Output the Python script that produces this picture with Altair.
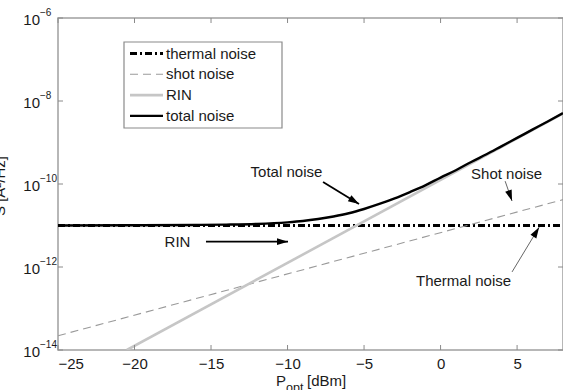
import math
import altair as alt
import pandas as pd

# ---- noise levels versus received optical power ----
thermal_p = [-25, 8]
thermal_v = [1.0e-11, 1.0e-11]

shot_p = [-25, 8]
shot_v = [2.2e-14, 4.2e-11]

rin_p = [-20.5, 8]
rin_v = [1.0e-14, 5.0e-9]

total_p = [-25, -20, -16, -14, -12, -10, -9, -8, -7, -6, -5, -4, -3, -2, -1,
           0, 1, 2, 3, 4, 5, 6, 7, 8]
total_v = [1.00e-11, 1.01e-11, 1.03e-11, 1.05e-11, 1.09e-11, 1.19e-11, 1.28e-11,
           1.43e-11, 1.65e-11, 1.97e-11, 2.5e-11, 3.3e-11, 4.5e-11, 6.4e-11, 9.3e-11,
           1.43e-10, 2.15e-10, 3.4e-10, 5.2e-10, 8.2e-10, 1.29e-9, 2.04e-9, 3.2e-9, 5.1e-9]

series_names = ["thermal noise", "shot noise", "RIN", "total noise"]

# ---- axis ticks ----
x_ticks = [-25, -20, -15, -10, -5, 0, 5]
y_exponents = [-6, -8, -10, -12, -14]

# ---- annotations: label text and arrow (start -> tip) in data units ----
note_text = ["Total noise", "RIN", "Shot noise", "Thermal noise"]
note_p = [-10.07, -17.19, 4.31, 1.50]
note_v = [2.0e-10, 4.07e-12, 1.74e-10, 4.6e-13]
arrow_p0 = [-7.68, -15.33, 4.22, 4.67]
arrow_v0 = [1.12e-10, 4.07e-12, 1.17e-10, 7.6e-13]
arrow_p1 = [-5.33, -9.97, 4.67, 6.44]
arrow_v1 = [3.3e-11, 4.07e-12, 3.9e-11, 9.1e-12]
arrow_color = ["black", "black", "#555555", "#555555"]
arrow_width = [1.8, 1.8, 0.9, 0.9]

# ---- geometry / styles ----
W, H = 505, 332
X_DOM = [-25, 8]
Y_DOM = [1e-14, 1e-6]
FONT = "Liberation Sans"
TXT = "#1a1a1a"
FRAME = "#a0a0a0"

styles = {
    "thermal noise": dict(color="black", strokeWidth=2.8, strokeDash=[7, 3, 2, 3]),
    "shot noise": dict(color="#9a9a9a", strokeWidth=1.1, strokeDash=[8, 5]),
    "RIN": dict(color="#c6c6c6", strokeWidth=2.6),
    "total noise": dict(color="black", strokeWidth=2.4),
}

xs = alt.Scale(domain=X_DOM, nice=False, zero=False)
ys = alt.Scale(type="log", domain=Y_DOM, nice=False)
x_axis = alt.Axis(values=x_ticks, format="d", ticks=False, domain=False, grid=False,
                  labelFont=FONT, labelFontSize=15, labelColor=TXT, labelPadding=6,
                  title=None)


def X(field="P"):
    return alt.X(f"{field}:Q", scale=xs, axis=x_axis)


def Y(field="value"):
    return alt.Y(f"{field}:Q", scale=ys, axis=None)


def screen_angle(p0, v0, p1, v1):
    """Direction of an arrow on screen (degrees clockwise from +x)."""
    dx = (p1 - p0) / (X_DOM[1] - X_DOM[0]) * W
    dy = -(math.log10(v1) - math.log10(v0)) / (math.log10(Y_DOM[1]) - math.log10(Y_DOM[0])) * H
    return math.degrees(math.atan2(dy, dx)) % 360


layers = []

# curves
curve_data = {
    "thermal noise": (thermal_p, thermal_v),
    "shot noise": (shot_p, shot_v),
    "RIN": (rin_p, rin_v),
    "total noise": (total_p, total_v),
}
for name in series_names:
    p, v = curve_data[name]
    df = pd.DataFrame({"P": p, "value": v})
    layers.append(
        alt.Chart(df).mark_line(clip=True, interpolate="monotone", **styles[name])
        .encode(x=X(), y=Y())
    )

# inward tick marks on all four sides
xt = pd.DataFrame({"P": x_ticks})
yt = pd.DataFrame({"value": [10.0 ** e for e in y_exponents]})
tick_col = "#8a8a8a"
layers += [
    alt.Chart(xt).mark_rule(color=tick_col).encode(x=X(), y=alt.value(H), y2=alt.value(H - 5)),
    alt.Chart(xt).mark_rule(color=tick_col).encode(x=X(), y=alt.value(0), y2=alt.value(5)),
    alt.Chart(yt).mark_rule(color=tick_col).encode(y=Y(), x=alt.value(0), x2=alt.value(5)),
    alt.Chart(yt).mark_rule(color=tick_col).encode(y=Y(), x=alt.value(W), x2=alt.value(W - 5)),
]

# y tick labels as 10 with a superscript exponent
ylab = pd.DataFrame({
    "value": [10.0 ** e for e in y_exponents],
    "exp": ["\u2212" + str(abs(e)) for e in y_exponents],
})
layers += [
    alt.Chart(ylab).mark_text(text="10", align="right", baseline="alphabetic", dy=7,
                              font=FONT, fontSize=15, color=TXT)
    .encode(y=Y(), x=alt.value(-18)),
    alt.Chart(ylab).mark_text(align="left", baseline="alphabetic", dy=-2,
                              font=FONT, fontSize=10, color=TXT)
    .encode(y=Y(), x=alt.value(-18), text="exp:N"),
]

# x axis title  P_opt [dBm]
layers += [
    alt.Chart(xt.head(1)).mark_text(text="P", align="left", baseline="alphabetic",
                                    font=FONT, fontSize=15, color=TXT)
    .encode(x=alt.value(218), y=alt.value(368)),
    alt.Chart(xt.head(1)).mark_text(text="opt", align="left", baseline="alphabetic",
                                    font=FONT, fontSize=12.5, color=TXT)
    .encode(x=alt.value(228), y=alt.value(374)),
    alt.Chart(xt.head(1)).mark_text(text="[dBm]", align="left", baseline="alphabetic",
                                    font=FONT, fontSize=15, color=TXT)
    .encode(x=alt.value(249), y=alt.value(368)),
]

# y axis title (runs off the left edge)
layers.append(
    alt.Chart(xt.head(1)).mark_text(text="S [A\u00b2/Hz]", angle=270, align="center",
                                    baseline="alphabetic", font=FONT, fontSize=15, color=TXT)
    .encode(x=alt.value(-53), y=alt.value(168))
)

# annotations
notes = pd.DataFrame({"P": note_p, "value": note_v, "label": note_text})
layers.append(
    alt.Chart(notes).mark_text(align="center", baseline="middle", font=FONT, fontSize=15,
                               color=TXT)
    .encode(x=X(), y=Y(), text="label:N")
)

arrows = pd.DataFrame({
    "P": arrow_p0, "value": arrow_v0, "P1": arrow_p1, "value1": arrow_v1,
    "col": arrow_color, "w": arrow_width,
})
arrows["angle"] = [screen_angle(a, b, c, d) for a, b, c, d in
                   zip(arrow_p0, arrow_v0, arrow_p1, arrow_v1)]
layers.append(
    alt.Chart(arrows).mark_rule()
    .encode(x=X(), y=Y(), x2="P1:Q", y2="value1:Q",
            color=alt.Color("col:N", scale=None),
            strokeWidth=alt.StrokeWidth("w:Q", scale=None))
)
layers.append(
    alt.Chart(arrows).mark_point(shape="M0,0L-2,-0.62L-2,0.62Z", filled=True, size=121,
                                 color="black", opacity=1, strokeWidth=0)
    .encode(x=alt.X("P1:Q", scale=xs, axis=x_axis), y=alt.Y("value1:Q", scale=ys, axis=None),
            angle=alt.Angle("angle:Q", scale=None))
)

# legend box
LX0, LX1, LY0, LY1 = 66, 224, 24, 110
layers.append(
    alt.Chart(xt.head(1)).mark_rect(fill="white", stroke="#8a8a8a", strokeWidth=1.2)
    .encode(x=alt.value(LX0), x2=alt.value(LX1), y=alt.value(LY0), y2=alt.value(LY1))
)
for i, name in enumerate(series_names):
    ry = 35.5 + 20.8 * i
    st = styles[name]
    layers.append(
        alt.Chart(xt.head(1)).mark_rule(**st)
        .encode(x=alt.value(72), x2=alt.value(105), y=alt.value(ry))
    )
    layers.append(
        alt.Chart(xt.head(1)).mark_text(text=name, align="left", baseline="middle",
                                        font=FONT, fontSize=15, color=TXT)
        .encode(x=alt.value(108), y=alt.value(ry))
    )

chart = (
    alt.layer(*layers)
    .properties(width=W, height=H, autosize=alt.AutoSizeParams(type="none"),
                padding={"left": 58, "top": 18, "right": 0, "bottom": 40},
                background="white")
    .configure_view(stroke=FRAME, strokeWidth=1.5)
)

chart.save("out.html", embed_options={"renderer": "svg", "actions": False})
